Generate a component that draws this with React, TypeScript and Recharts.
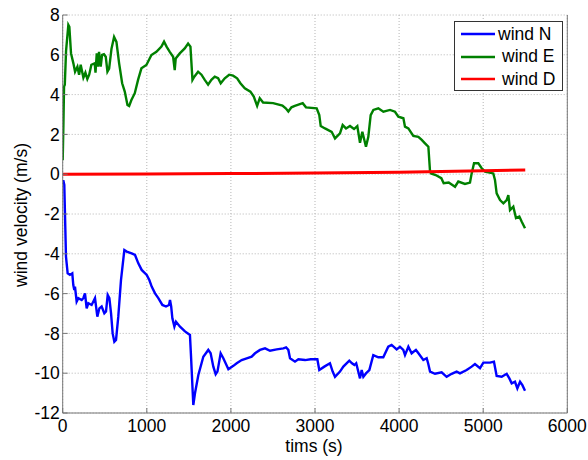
import React from "react";
import {
  LineChart,
  Line,
  XAxis,
  YAxis,
  CartesianGrid,
  Legend,
} from "recharts";

// time stamps (s) and wind components (m/s)
const windNTime = [
  0, 7, 19, 26, 39, 59, 86, 114, 126, 138, 146, 166, 186, 226, 245, 265, 285, 305, 344, 384,
  412, 436, 463, 495, 515, 535, 555, 575, 594, 614, 634, 661, 693, 733, 761, 820, 860, 899,
  939, 999, 1030, 1058, 1098, 1137, 1185, 1228, 1264, 1276, 1290, 1304, 1328, 1347, 1395,
  1454, 1513, 1526, 1553, 1573, 1613, 1672, 1731, 1759, 1791, 1819, 1840, 1878, 1910, 1970,
  2029, 2069, 2128, 2188, 2247, 2287, 2346, 2406, 2465, 2545, 2624, 2656, 2683, 2703, 2762,
  2802, 2882, 2949, 3028, 3051, 3111, 3178, 3210, 3238, 3297, 3337, 3408, 3440, 3468, 3490,
  3535, 3555, 3575, 3606, 3646, 3693, 3753, 3812, 3871, 3911, 3971, 4010, 4050, 4070, 4110,
  4149, 4200, 4230, 4288, 4328, 4345, 4368, 4427, 4506, 4565, 4625, 4684, 4724, 4803, 4863,
  4902, 4962, 5002, 5081, 5128, 5160, 5220, 5279, 5311, 5339, 5378, 5406, 5438, 5466, 5497,
];
const windN = [
  -0.5, -0.3, -0.54, -1.8, -4.14, -4.98, -5.06, -4.98, -5.57, -5.82, -5.65, -6.4, -6.23,
  -6.32, -6.23, -5.99, -6.74, -6.48, -6.57, -6.23, -7.16, -6.74, -6.65, -6.99, -6.9, -6.07,
  -6.23, -6.99, -8.0, -8.42, -8.33, -7.16, -5.32, -3.81, -3.89, -3.98, -4.06, -4.48, -4.81,
  -5.06, -5.32, -5.65, -5.99, -6.23, -6.57, -6.65, -6.57, -6.32, -6.65, -7.24, -7.66, -7.41,
  -7.66, -7.9, -8.08, -9.17, -11.6, -11.01, -10.09, -9.17, -8.83, -9.0, -9.67, -10.05, -9.92,
  -9.0, -9.25, -9.8, -9.63, -9.5, -9.34, -9.25, -9.17, -9.0, -8.83, -8.75, -8.87, -8.8,
  -8.75, -8.7, -8.83, -9.25, -9.42, -9.3, -9.34, -9.3, -9.3, -9.84, -9.67, -9.5, -9.92,
  -10.18, -9.92, -9.67, -9.37, -9.5, -9.59, -9.5, -10.26, -9.84, -10.18, -10.01, -9.84,
  -9.09, -9.2, -9.2, -8.67, -8.58, -8.8, -8.67, -8.83, -9.09, -8.67, -9.0, -8.83, -9.0,
  -9.34, -9.25, -9.5, -9.92, -10.03, -9.96, -10.18, -10.03, -9.92, -10.01, -9.84, -9.67,
  -9.54, -9.75, -9.47, -9.47, -9.42, -10.14, -10.18, -10.03, -10.26, -10.51, -10.43, -10.76,
  -10.43, -10.6, -10.88,
];

const windETime = [
  0, 8, 16, 25, 40, 67, 79, 99, 127, 147, 175, 195, 214, 246, 270, 293, 315, 341, 381, 390,
  405, 420, 432, 452, 468, 490, 512, 532, 552, 580, 611, 639, 671, 707, 738, 770, 790, 817,
  857, 896, 936, 995, 1055, 1114, 1174, 1205, 1235, 1273, 1313, 1332, 1344, 1392, 1451, 1491,
  1519, 1543, 1565, 1610, 1650, 1689, 1729, 1768, 1808, 1848, 1879, 1927, 1979, 2026, 2074,
  2113, 2165, 2232, 2272, 2312, 2343, 2383, 2502, 2613, 2652, 2683, 2720, 2760, 2854, 2893,
  3020, 3051, 3068, 3119, 3198, 3238, 3297, 3329, 3369, 3416, 3464, 3503, 3535, 3563, 3606,
  3634, 3662, 3694, 3753, 3813, 3892, 3951, 3991, 4051, 4070, 4110, 4169, 4229, 4269, 4308,
  4348, 4368, 4380, 4435, 4502, 4530, 4590, 4665, 4704, 4783, 4843, 4863, 4891, 4942, 4982,
  5022, 5120, 5140, 5160, 5200, 5240, 5279, 5299, 5319, 5358, 5390, 5430, 5457, 5497,
];
const windE = [
  0.7, 2.4, 4.4, 4.5, 6.2, 7.5, 7.4, 6.07, 5.57, 5.15, 5.4, 5.0, 5.5, 4.85, 5.1, 4.78, 5.0,
  5.5, 5.57, 5.1, 6.07, 5.4, 6.15, 5.4, 6.0, 6.03, 5.9, 5.15, 5.3, 6.3, 6.9, 6.65, 5.57,
  4.57, 4.15, 3.48, 3.43, 3.73, 4.07, 4.74, 5.32, 5.49, 5.99, 6.15, 6.41, 6.66, 6.41, 6.15,
  5.9, 5.23, 5.82, 6.07, 6.32, 6.57, 6.41, 4.74, 4.9, 5.15, 5.0, 4.74, 4.5, 4.74, 4.9, 4.82,
  4.57, 4.82, 5.0, 4.95, 4.82, 4.57, 4.32, 4.15, 3.9, 3.43, 3.82, 3.6, 3.57, 3.45, 3.31,
  3.15, 3.36, 3.43, 3.57, 3.36, 3.31, 2.97, 2.42, 2.3, 2.13, 1.8, 2.05, 2.47, 2.3, 2.42,
  2.27, 2.42, 1.58, 2.13, 1.38, 1.88, 2.97, 3.23, 3.31, 3.14, 3.23, 3.14, 2.89, 2.81, 2.39,
  2.3, 1.92, 1.88, 1.72, 1.55, 1.38, 0.13, 0.04, -0.04, -0.2, -0.45, -0.42, -0.63, -0.37,
  -0.49, -0.42, 0.04, 0.55, 0.55, 0.3, 0.13, 0.04, -0.29, -0.96, -1.3, -1.46, -1.3, -1.05,
  -1.8, -1.63, -2.2, -2.13, -2.38, -2.72,
];

const windDTime = [0, 1000, 2000, 3000, 4000, 4500, 5000, 5500];
const windD = [0, 0.01, 0.03, 0.06, 0.1, 0.13, 0.17, 0.21];

const xTicks = [0, 1000, 2000, 3000, 4000, 5000, 6000];
const yTicks = [-12, -10, -8, -6, -4, -2, 0, 2, 4, 6, 8];

const toRows = (t: number[], v: number[]) => t.map((x, i) => ({ t: x, v: v[i] }));

const series = [
  { name: "wind N", color: "#0000ff", width: 2.4, data: toRows(windNTime, windN) },
  { name: "wind E", color: "#008000", width: 2.4, data: toRows(windETime, windE) },
  { name: "wind D", color: "#ff0000", width: 3, data: toRows(windDTime, windD) },
];

const FONT = '"Liberation Sans", Arial, Helvetica, sans-serif';
const FS = 17.5;
const BOX = "#777";

function LegendBox() {
  return (
    <div
      style={{
        width: 107,
        height: 68,
        border: "1px solid #333",
        background: "#fff",
        fontFamily: FONT,
        fontSize: FS,
        position: "relative",
      }}
    >
      {series.map((s, i) => (
        <div
          key={s.name}
          style={{
            position: "absolute",
            left: 6,
            top: 2 + i * 22.5,
            height: 20,
            display: "flex",
            alignItems: "center",
            whiteSpace: "nowrap",
          }}
        >
          <svg width={34} height={6}>
            <line x1={0} y1={3} x2={34} y2={3} stroke={s.color} strokeWidth={2.5} />
          </svg>
          <span style={{ marginLeft: i === 0 ? 3 : 7, color: "#000" }}>{s.name}</span>
        </div>
      ))}
    </div>
  );
}

export default function App() {
  return (
    <div style={{ width: 588, height: 460, background: "#fff", fontFamily: FONT }}>
      <style>{`body{margin:0}`}</style>
      <LineChart
        width={588}
        height={460}
        margin={{ top: 15, right: 0, bottom: 0, left: 0 }}
        style={{ fontFamily: FONT }}
      >
        <CartesianGrid stroke="#b5b5b5" strokeDasharray="1 2" />
        <XAxis
          type="number"
          dataKey="t"
          domain={[0, 6000]}
          ticks={xTicks}
          height={47}
          tickSize={-5}
          tickMargin={12}
          tick={{ fill: "#000", fontSize: FS }}
          axisLine={{ stroke: BOX }}
          tickLine={{ stroke: BOX }}
          allowDataOverflow
          label={{
            content: () => (
              <text x={314} y={452} textAnchor="middle" fontSize={FS} fill="#000">
                tims (s)
              </text>
            ),
          }}
        />
        <XAxis
          xAxisId="top"
          orientation="top"
          type="number"
          domain={[0, 6000]}
          ticks={xTicks}
          height={0}
          tickSize={-5}
          tick={false}
          axisLine={{ stroke: BOX }}
          tickLine={{ stroke: BOX }}
          allowDataOverflow
        />
        <YAxis
          type="number"
          domain={[-12, 8]}
          ticks={yTicks}
          width={62.7}
          tickSize={-5}
          tickMargin={8}
          tick={{ fill: "#000", fontSize: FS }}
          axisLine={{ stroke: BOX }}
          tickLine={{ stroke: BOX }}
          allowDataOverflow
          label={{
            content: () => (
              <text
                x={21}
                y={215}
                transform="rotate(-90 21 215)"
                textAnchor="middle"
                dominantBaseline="central"
                fontSize={FS}
                fill="#000"
              >
                wind velocity (m/s)
              </text>
            ),
          }}
        />
        <YAxis
          yAxisId="right"
          orientation="right"
          type="number"
          domain={[-12, 8]}
          ticks={yTicks}
          width={20.7}
          tickSize={-5}
          tick={false}
          axisLine={{ stroke: BOX }}
          tickLine={{ stroke: BOX }}
          allowDataOverflow
        />
        <Legend
          layout="vertical"
          align="center"
          verticalAlign="middle"
          content={() => <LegendBox />}
          wrapperStyle={{ left: 454, top: 21, width: 109, height: 70 }}
        />
        {series.map((s) => (
          <Line
            key={s.name}
            data={s.data}
            dataKey="v"
            name={s.name}
            type="linear"
            stroke={s.color}
            strokeWidth={s.width}
            dot={false}
            activeDot={false}
            isAnimationActive={false}
          />
        ))}
      </LineChart>
    </div>
  );
}
